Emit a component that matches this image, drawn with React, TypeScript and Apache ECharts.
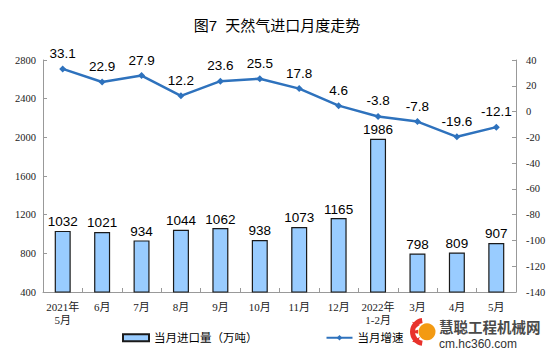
import React, { useEffect, useRef } from "react";
import * as echarts from "echarts";

const categories = ["2021年\n5月", "6月", "7月", "8月", "9月", "10月", "11月", "12月", "2022年\n1-2月", "3月", "4月", "5月"];
const importVolume = [1032, 1021, 934, 1044, 1062, 938, 1073, 1165, 1986, 798, 809, 907];
const growthRate = [33.1, 22.9, 27.9, 12.2, 23.6, 25.5, 17.8, 4.6, -3.8, -7.8, -19.6, -12.1];
const seriesNames = ["当月进口量（万吨）", "当月增速"];
const titleText = "图7  天然气进口月度走势";

export default function App() {
  const ref = useRef<HTMLDivElement>(null);
  useEffect(() => {
    if (!ref.current) return;
    const chart = echarts.init(ref.current, undefined, { renderer: "svg" });
    const axisFont = "'Liberation Serif', 'Noto Sans CJK SC', serif";
    const cjk = "'Liberation Sans', 'Noto Sans CJK SC', sans-serif";
    chart.setOption({
      animation: false,
      backgroundColor: "#ffffff",
      title: {
        text: titleText,
        left: "center",
        top: 13,
        textStyle: { fontFamily: cjk, fontSize: 15, fontWeight: "normal", color: "#000" },
      },
      grid: { left: 43, right: 38, top: 60, bottom: 65, containLabel: false },
      legend: {
        left: 122,
        top: 332,
        padding: 0,
        itemWidth: 26,
        itemHeight: 7,
        itemGap: 68,
        textStyle: { fontFamily: cjk, fontSize: 11.5, color: "#000" },
        data: [
          { name: seriesNames[0], icon: "rect" },
          { name: seriesNames[1] },
        ],
      },
      xAxis: {
        type: "category",
        data: categories,
        boundaryGap: true,
        axisLine: { onZero: false, lineStyle: { color: "#999", width: 1 } },
        axisTick: { show: true, inside: true, length: 4, lineStyle: { color: "#999" } },
        axisLabel: { fontFamily: axisFont, fontSize: 11, color: "#222", margin: 8, lineHeight: 13, interval: 0 },
      },
      yAxis: [
        {
          type: "value",
          min: 400,
          max: 2800,
          interval: 400,
          axisLine: { show: true, lineStyle: { color: "#999" } },
          axisTick: { show: true, inside: true, length: 4, lineStyle: { color: "#999" } },
          splitLine: { show: false },
          axisLabel: { fontFamily: axisFont, fontSize: 10.5, color: "#222", margin: 7, formatter: (v: number) => String(v) },
        },
        {
          type: "value",
          min: -140,
          max: 40,
          interval: 20,
          axisLine: { show: true, lineStyle: { color: "#999" } },
          axisTick: { show: true, inside: true, length: 4, lineStyle: { color: "#999" } },
          splitLine: { show: false },
          axisLabel: { fontFamily: axisFont, fontSize: 10.5, color: "#222", margin: 10, formatter: (v: number) => String(v) },
        },
      ],
      series: [
        {
          name: seriesNames[0],
          type: "bar",
          yAxisIndex: 0,
          data: importVolume,
          barWidth: 16,
          itemStyle: { color: "#99ccff", borderColor: "#1a1a1a", borderWidth: 1.2 },
          label: {
            show: true,
            position: "top",
            distance: 2,
            fontFamily: "'Liberation Sans', Arial, sans-serif",
            fontSize: 13.5,
            color: "#000",
          },
        },
        {
          name: seriesNames[1],
          type: "line",
          yAxisIndex: 1,
          data: growthRate,
          symbol: "diamond",
          symbolSize: 7,
          lineStyle: { color: "#2e72bd", width: 2.5 },
          itemStyle: { color: "#2e72bd" },
          label: {
            show: true,
            position: "top",
            distance: 5,
            fontFamily: "'Liberation Sans', Arial, sans-serif",
            fontSize: 13.5,
            color: "#000",
            formatter: (p: any) => Number(p.value).toFixed(1),
          },
          z: 5,
        },
      ],
      graphic: [
        {
          type: "group",
          left: 410,
          top: 318,
          children: [
            { type: "sector", shape: { cx: 14, cy: 14, r: 14, r0: 9, startAngle: Math.PI * 0.55, endAngle: Math.PI * 1.45 }, style: { fill: "#e8322b" } },
            { type: "polygon", shape: { points: [[2, 4], [10, 7], [6, 10]] }, style: { fill: "#e8322b" } },
            { type: "polygon", shape: { points: [[0, 14], [8, 12], [8, 16]] }, style: { fill: "#e8322b" } },
            { type: "polygon", shape: { points: [[2, 24], [10, 19], [7, 25]] }, style: { fill: "#e8322b" } },
            { type: "circle", shape: { cx: 17, cy: 14, r: 8.5 }, style: { fill: "#f39a12" } },
            {
              type: "text",
              x: 29,
              y: 1,
              style: { text: "慧聪工程机械网", font: "bold 14.5px 'Noto Sans CJK SC', sans-serif", fill: "#4a4a4a", lineHeight: 16 },
            },
            {
              type: "text",
              x: 29,
              y: 20,
              style: { text: "cm.hc360.com", font: "12px 'Liberation Sans', Arial, sans-serif", fill: "#333", lineHeight: 13 },
            },
          ],
        },
      ],
    });
    return () => chart.dispose();
  }, []);
  return <div ref={ref} style={{ position: "fixed", left: 0, top: 0, width: 554, height: 357 }} />;
}
